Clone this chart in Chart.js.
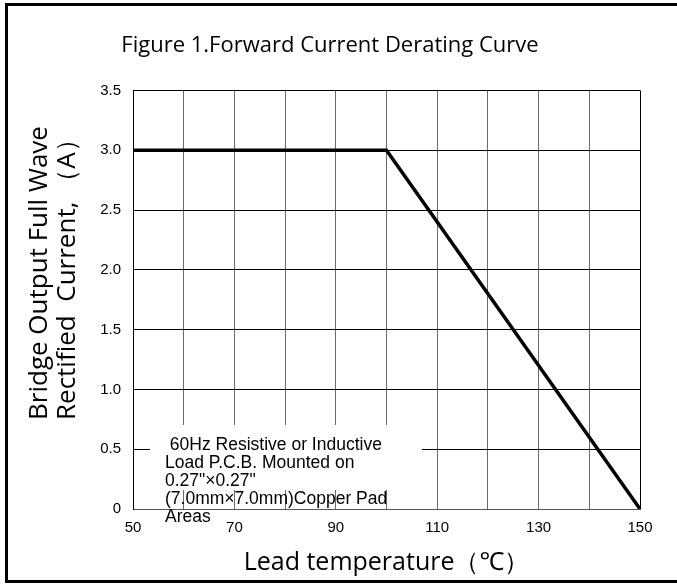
<!DOCTYPE html>
<html>
<head>
<meta charset="utf-8">
<script src="https://cdn.jsdelivr.net/npm/chart.js@4.4.0/dist/chart.umd.min.js"></script>
<style>
  html, body { margin: 0; padding: 0; background: #fff; }
  #wrap { width: 677px; height: 586px; position: relative; }
</style>
</head>
<body>
<div id="wrap"><canvas id="derating"></canvas></div>
<script>
// derating curve data
const leadTemp = [50, 100, 150];
const outputCurrent = [3.0, 3.0, 0];
const xTickValues = [50, 70, 90, 110, 130, 150];
const yTickLabels = ['0', '0.5', '1.0', '1.5', '2.0', '2.5', '3.0', '3.5'];
const chartTitle = 'Figure 1.Forward Current Derating Curve';
const xTitle = 'Lead temperature\uFF08\u2103\uFF09';
const yTitleLines = ['Bridge Output Full Wave', 'Rectified  Current, \uFF08A\uFF09'];
const noteLines = [
    ' 60Hz Resistive or Inductive',
    'Load P.C.B. Mounted on',
    '0.27"\u00D70.27"',
    '(7.0mm\u00D77.0mm)Copper Pad',
    'Areas'
];

const calibriLike = '"Open Sans", "Noto Sans", sans-serif';
const arialLike = '"Liberation Sans", Arial, sans-serif';

// white page + black frame
const framePlugin = {
    id: 'frame',
    beforeDraw(chart) {
        const c = chart.ctx;
        c.save();
        c.fillStyle = '#fff';
        c.fillRect(0, 0, chart.width, chart.height);
        c.fillStyle = '#000';
        c.fillRect(5, 3, 3, 580);
        c.fillRect(5, 3, chart.width - 5, 3);
        c.fillRect(5, 580, chart.width - 5, 3);
        c.restore();
    }
};

// two-line rotated y title, start aligned
const yTitlePlugin = {
    id: 'yTitle',
    afterDraw(chart) {
        const c = chart.ctx;
        c.save();
        c.font = '26px ' + calibriLike;
        c.fillStyle = '#000';
        c.textAlign = 'left';
        c.textBaseline = 'middle';
        yTitleLines.forEach((line, i) => {
            c.save();
            c.translate(40 + i * 28, 420);
            c.rotate(-Math.PI / 2);
            c.fillText(line, 0, 0);
            c.restore();
        });
        c.restore();
    }
};

// note box in lower left of plot
const notePlugin = {
    id: 'note',
    afterDatasetsDraw(chart) {
        const c = chart.ctx;
        const a = chart.chartArea;
        c.save();
        c.fillStyle = '#fff';
        c.fillRect(a.left + 17, a.bottom - 84, 272, 65);
        c.font = '17.5px ' + arialLike;
        c.fillStyle = '#000';
        c.textAlign = 'left';
        c.textBaseline = 'middle';
        noteLines.forEach((line, i) => {
            c.fillText(line, a.left + 32, a.bottom - 64 + i * 18);
        });
        c.restore();
    }
};

const ctx = document.getElementById('derating').getContext('2d');
const deratingChart = new Chart(ctx, {
    type: 'line',
    data: {
        datasets: [{
            data: leadTemp.map((t, i) => ({ x: t, y: outputCurrent[i] })),
            borderColor: '#000',
            borderWidth: 3.5,
            pointRadius: 0,
            tension: 0,
            fill: false
        }]
    },
    options: {
        responsive: true,
        maintainAspectRatio: false,
        animation: false,
        layout: { padding: { left: 20, right: 37, top: 0, bottom: 0 } },
        plugins: {
            legend: { display: false },
            tooltip: { enabled: false },
            title: {
                display: true,
                text: chartTitle,
                color: '#000',
                font: { family: calibriLike, size: 22, weight: 'normal', lineHeight: 1.2 },
                padding: { top: 33, bottom: 31 }
            }
        },
        scales: {
            x: {
                type: 'linear',
                min: 50,
                max: 150,
                afterFit(scale) { scale.height = 77; },
                ticks: {
                    stepSize: 10,
                    autoSkip: false,
                    maxRotation: 0,
                    padding: 10,
                    color: '#000',
                    font: { family: arialLike, size: 15 },
                    callback: v => xTickValues.includes(v) ? String(v) : ''
                },
                grid: {
                    drawTicks: false,
                    color: c => c.tick && c.tick.value === 150 ? '#000' : '#6a6a6a',
                    lineWidth: 1
                },
                border: { color: '#555', width: 1 },
                title: {
                    display: true,
                    text: xTitle,
                    color: '#000',
                    font: { family: calibriLike, size: 25 },
                    padding: { top: 0, bottom: 8 }
                }
            },
            y: {
                min: 0,
                max: 3.5,
                afterFit(scale) { scale.width = 113; },
                ticks: {
                    stepSize: 0.5,
                    padding: 12,
                    color: '#000',
                    font: { family: arialLike, size: 15 },
                    callback: (v, i) => yTickLabels[i]
                },
                grid: { drawTicks: false, color: '#000', lineWidth: 1 },
                border: { color: '#000', width: 1 }
            }
        }
    },
    plugins: [framePlugin, notePlugin, yTitlePlugin]
});
</script>
</body>
</html>
